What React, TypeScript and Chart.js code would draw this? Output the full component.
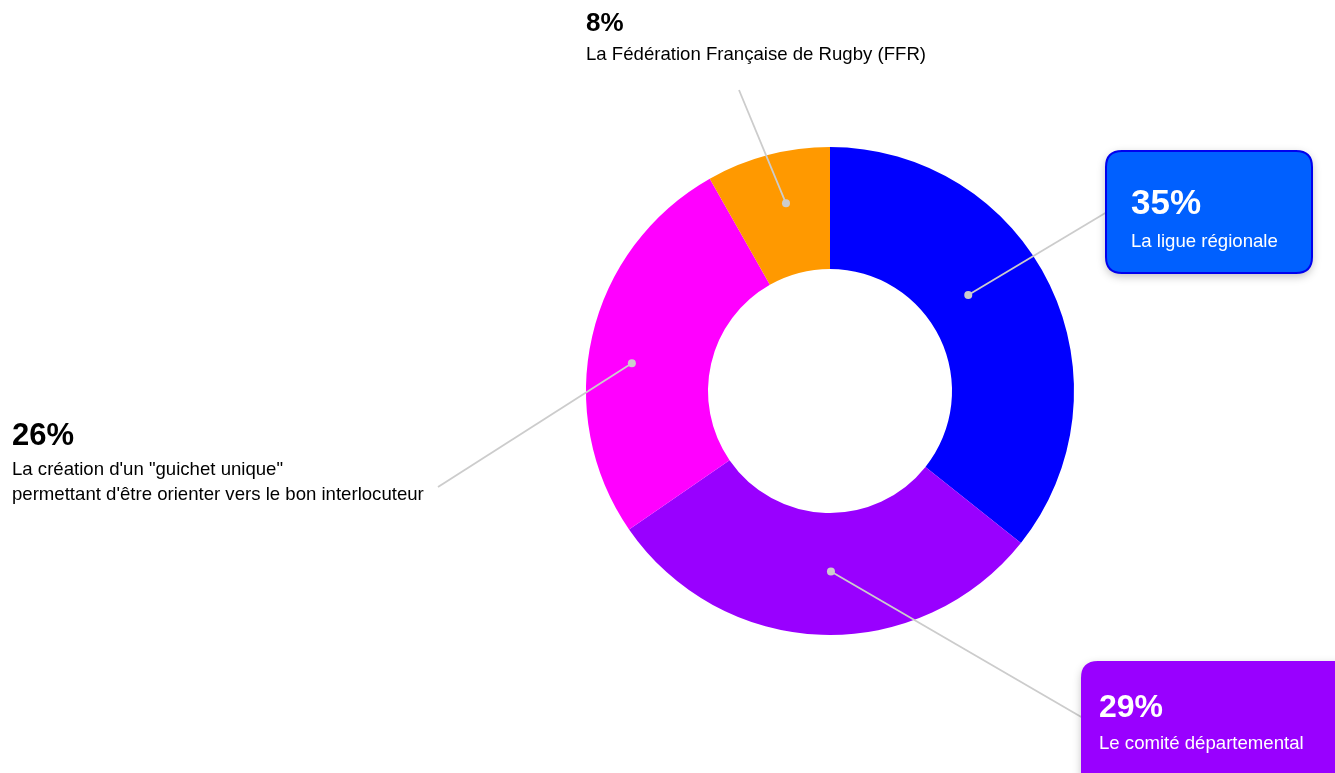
import React, { useEffect, useRef } from "react";
import { Chart, registerables } from "chart.js";

Chart.register(...registerables);

const categories = [
  "La ligue régionale",
  "Le comité départemental",
  "La création d'un \"guichet unique\"\npermettant d'être orienter vers le bon interlocuteur",
  "La Fédération Française de Rugby (FFR)",
];
const values = [35.7, 29.7, 26.4, 8.2];
const sliceColors = ["#0000FF", "#9900FF", "#FF00FF", "#FF9900"];

const FONT = "'Liberation Sans', Arial, Helvetica, sans-serif";

// callout layout (annotation placement, not data)
const callouts = [
  { angle: 55.2, r: 0.69, end: [1107, 212], box: { x: 1106, y: 151, w: 206, h: 122, fill: "#0060FF", stroke: "#0000EE" }, tx: 1131, pctY: 214, pctSize: 35, subY: 247, lineH: 25, color: "#FFFFFF" },
  { angle: 179.7, r: 0.74, end: [1083, 718], box: { x: 1082, y: 662, w: 280, h: 140, fill: "#9900FF", stroke: "#9900FF" }, tx: 1099, pctY: 717, pctSize: 32, subY: 749, lineH: 25, color: "#FFFFFF" },
  { angle: 278, r: 0.82, end: [438, 487], box: null, tx: 12, pctY: 445, pctSize: 31, subY: 475, lineH: 25, color: "#000000" },
  { angle: 346.8, r: 0.79, end: [739, 90], box: null, tx: 586, pctY: 31, pctSize: 26, subY: 60, lineH: 25, color: "#000000" },
];

function roundRect(ctx: CanvasRenderingContext2D, x: number, y: number, w: number, h: number, r: number) {
  ctx.beginPath();
  ctx.moveTo(x + r, y);
  ctx.lineTo(x + w - r, y);
  ctx.quadraticCurveTo(x + w, y, x + w, y + r);
  ctx.lineTo(x + w, y + h - r);
  ctx.quadraticCurveTo(x + w, y + h, x + w - r, y + h);
  ctx.lineTo(x + r, y + h);
  ctx.quadraticCurveTo(x, y + h, x, y + h - r);
  ctx.lineTo(x, y + r);
  ctx.quadraticCurveTo(x, y, x + r, y);
  ctx.closePath();
}

const calloutPlugin = {
  id: "callouts",
  afterDraw(chart: any) {
    const ctx: CanvasRenderingContext2D = chart.ctx;
    const meta = chart.getDatasetMeta(0);
    const arc0 = meta.data[0];
    if (!arc0) return;
    const { x: cx, y: cy, outerRadius } = arc0.getProps(["x", "y", "outerRadius"], true);
    const data = chart.data.datasets[0].data as number[];
    const labels = chart.data.labels as string[];
    callouts.forEach((c, i) => {
      const a = (c.angle * Math.PI) / 180;
      const dx = cx + Math.sin(a) * outerRadius * c.r;
      const dy = cy - Math.cos(a) * outerRadius * c.r;
      ctx.save();
      ctx.strokeStyle = "#CCCCCC";
      ctx.lineWidth = 1.8;
      ctx.beginPath();
      ctx.moveTo(dx, dy);
      ctx.lineTo(c.end[0], c.end[1]);
      ctx.stroke();
      ctx.fillStyle = "#CCCCCC";
      ctx.beginPath();
      ctx.arc(dx, dy, 4, 0, Math.PI * 2);
      ctx.fill();
      if (c.box) {
        ctx.save();
        ctx.shadowColor = "rgba(0,0,0,0.28)";
        ctx.shadowBlur = 10;
        ctx.shadowOffsetY = 3;
        roundRect(ctx, c.box.x, c.box.y, c.box.w, c.box.h, 16);
        ctx.fillStyle = c.box.fill;
        ctx.fill();
        ctx.restore();
        roundRect(ctx, c.box.x, c.box.y, c.box.w, c.box.h, 16);
        ctx.strokeStyle = c.box.stroke;
        ctx.lineWidth = 2;
        ctx.stroke();
      }
      ctx.fillStyle = c.color;
      ctx.textAlign = "left";
      ctx.textBaseline = "alphabetic";
      ctx.font = `bold ${c.pctSize}px ${FONT}`;
      ctx.fillText(`${Math.floor(data[i])}%`, c.tx, c.pctY);
      ctx.font = `18.6px ${FONT}`;
      labels[i].split("\n").forEach((line, k) => {
        ctx.fillText(line, c.tx, c.subY + k * c.lineH);
      });
      ctx.restore();
    });
  },
};

export default function App() {
  const ref = useRef<HTMLCanvasElement>(null);
  useEffect(() => {
    if (!ref.current) return;
    const chart = new Chart(ref.current, {
      type: "doughnut",
      data: {
        labels: categories,
        datasets: [
          {
            data: values,
            backgroundColor: sliceColors,
            borderWidth: 0,
          },
        ],
      },
      options: {
        animation: false,
        responsive: false,
        cutout: "50%",
        layout: { padding: { top: 147, bottom: 138, left: 586, right: 261 } },
        plugins: {
          legend: { display: false },
          tooltip: { enabled: false },
        },
      },
      plugins: [calloutPlugin],
    });
    return () => chart.destroy();
  }, []);
  return (
    <div style={{ position: "fixed", left: 0, top: 0, width: 1335, height: 773, background: "#fff" }}>
      <canvas ref={ref} width={1335} height={773} style={{ width: 1335, height: 773, display: "block" }} />
    </div>
  );
}
